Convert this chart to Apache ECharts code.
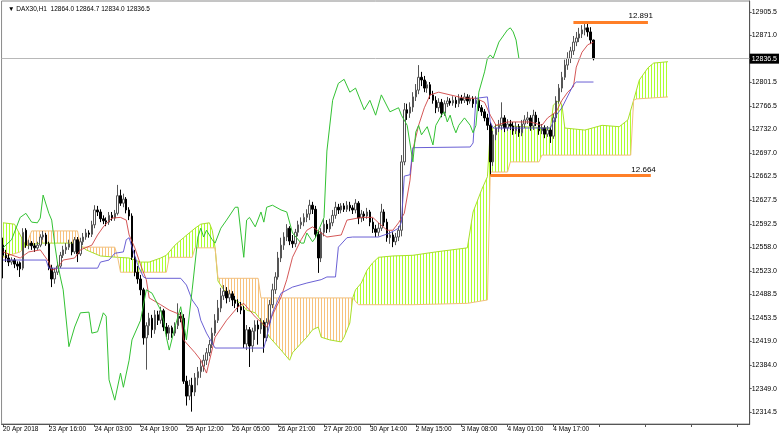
<!DOCTYPE html>
<html>
<head>
<meta charset="utf-8">
<script src="https://cdn.jsdelivr.net/npm/echarts@6/dist/echarts.min.js"></script>
<style>html,body{margin:0;padding:0;background:#fff}#chart{width:780px;height:435px}</style>
</head>
<body>
<div id="chart"></div>
<script>
// ---------- DATA ----------
const headerText = '▼ DAX30,H1  12864.0 12864.7 12834.0 12836.5';
const xTickLabels = ['20 Apr 2018','23 Apr 16:00','24 Apr 03:00','24 Apr 19:00','25 Apr 12:00','26 Apr 05:00','26 Apr 21:00','27 Apr 20:00','30 Apr 14:00','2 May 15:00','3 May 08:00','4 May 01:00','4 May 17:00'];
const yTickValues = [12314.5,12349.0,12384.0,12419.0,12453.5,12488.5,12523.0,12558.0,12592.5,12627.5,12662.5,12697.0,12732.0,12766.5,12801.5,12871.0,12905.5];
const bidPrice = 12836.5;

const opens = [12561,12546,12542,12536,12539,12533,12535,12527,12583,12561,
12564,12560,12557,12561,12573,12576,12563,12527,12511,12521,
12530,12546,12554,12558,12563,12551,12569,12548,12566,12573,
12579,12577,12591,12613,12610,12600,12597,12595,12605,12601,
12608,12634,12623,12629,12613,12604,12543,12521,12511,12495,
12424,12442,12453,12436,12458,12450,12464,12440,12431,12439,
12431,12442,12456,12453,12360,12338,12354,12344,12365,12374,
12382,12391,12402,12414,12431,12450,12468,12486,12493,12483,
12489,12480,12475,12470,12465,12415,12436,12412,12434,12443,
12437,12447,12424,12447,12473,12495,12514,12542,12561,12573,
12586,12567,12563,12580,12591,12595,12602,12607,12620,12614,
12577,12542,12580,12592,12585,12594,12605,12617,12613,12619,
12614,12620,12616,12613,12623,12601,12607,12604,12610,12595,
12585,12580,12586,12610,12595,12572,12576,12566,12573,12583,
12684,12761,12756,12765,12780,12790,12809,12805,12793,12798,
12783,12775,12764,12772,12756,12770,12774,12771,12775,12770,
12778,12775,12780,12774,12777,12770,12775,12764,12758,12749,
12738,12684,12724,12734,12738,12749,12734,12740,12737,12730,
12736,12727,12740,12746,12749,12737,12753,12743,12730,12734,
12725,12731,12722,12749,12774,12793,12809,12827,12837,12848,
12861,12867,12873,12879,12882,12876,12864];
const closes = [12546,12542,12536,12539,12533,12530,12526,12580,12561,12564,
12560,12557,12561,12573,12576,12563,12527,12511,12521,12530,
12546,12554,12558,12563,12551,12569,12548,12566,12573,12579,
12577,12591,12613,12610,12600,12597,12595,12605,12601,12608,
12634,12623,12629,12613,12604,12543,12521,12511,12495,12424,
12442,12453,12436,12458,12450,12464,12440,12431,12439,12431,
12442,12456,12453,12360,12338,12354,12344,12365,12374,12382,
12391,12402,12414,12431,12450,12468,12486,12493,12483,12489,
12480,12475,12470,12465,12415,12436,12412,12434,12443,12437,
12447,12424,12447,12473,12495,12514,12542,12561,12573,12586,
12567,12563,12580,12591,12595,12602,12607,12620,12614,12577,
12542,12580,12592,12585,12594,12605,12617,12613,12619,12614,
12620,12616,12613,12623,12601,12607,12604,12610,12595,12585,
12580,12586,12610,12595,12572,12576,12566,12573,12583,12684,
12761,12756,12765,12780,12790,12809,12805,12793,12798,12783,
12775,12764,12772,12756,12770,12774,12771,12775,12770,12778,
12775,12780,12774,12777,12770,12775,12764,12758,12749,12738,
12684,12724,12734,12738,12749,12734,12740,12737,12730,12736,
12727,12740,12746,12749,12737,12753,12743,12730,12734,12725,
12731,12722,12749,12774,12793,12809,12827,12837,12848,12861,
12867,12873,12879,12882,12876,12864,12836.5];
const highs = [12572,12554,12548,12543,12542,12537,12537,12586,12586,12569,
12567,12564,12566,12577,12582,12579,12566,12532,12527,12536,
12551,12560,12564,12569,12566,12573,12573,12572,12579,12585,
12583,12597,12620,12619,12614,12605,12602,12610,12610,12613,
12650,12643,12637,12632,12617,12608,12554,12530,12517,12498,
12447,12461,12458,12465,12464,12470,12467,12446,12443,12442,
12447,12475,12462,12459,12368,12362,12365,12372,12381,12391,
12399,12409,12421,12439,12459,12480,12498,12502,12499,12495,
12493,12486,12481,12477,12471,12443,12440,12439,12450,12450,
12453,12450,12453,12480,12504,12521,12551,12572,12580,12592,
12589,12576,12585,12597,12602,12608,12614,12628,12625,12619,
12583,12586,12600,12598,12600,12613,12625,12622,12623,12623,
12626,12625,12620,12629,12626,12613,12611,12616,12613,12601,
12591,12594,12622,12614,12600,12582,12580,12579,12589,12694,
12771,12770,12772,12787,12799,12827,12817,12811,12803,12802,
12789,12781,12778,12777,12775,12780,12778,12781,12780,12784,
12783,12786,12784,12783,12781,12781,12778,12768,12762,12755,
12743,12730,12740,12746,12772,12753,12747,12746,12743,12743,
12740,12746,12753,12758,12753,12761,12758,12749,12740,12738,
12737,12736,12755,12781,12799,12817,12835,12846,12854,12870,
12876,12882,12886,12891,12888,12883,12864.7];
const lows = [12512,12536,12530,12532,12527,12524,12514,12524,12557,12555,
12554,12551,12554,12558,12569,12560,12524,12499,12504,12517,
12527,12542,12548,12554,12546,12548,12536,12545,12561,12569,
12572,12573,12586,12604,12595,12592,12589,12591,12597,12597,
12605,12619,12617,12608,12598,12539,12515,12504,12487,12414,
12377,12428,12424,12430,12443,12445,12434,12425,12421,12424,
12427,12437,12447,12356,12324,12332,12315,12338,12354,12365,
12374,12384,12397,12409,12427,12446,12462,12480,12475,12477,
12471,12468,12462,12459,12409,12406,12381,12403,12421,12414,
12430,12402,12419,12442,12468,12489,12510,12536,12554,12567,
12561,12557,12558,12574,12585,12589,12595,12598,12607,12572,
12520,12536,12574,12579,12580,12589,12600,12607,12608,12610,
12610,12611,12607,12608,12592,12595,12597,12600,12589,12579,
12573,12574,12582,12589,12566,12563,12558,12561,12567,12574,
12679,12746,12749,12758,12774,12784,12796,12787,12786,12777,
12770,12756,12758,12750,12752,12765,12767,12767,12764,12765,
12770,12771,12768,12770,12764,12765,12759,12752,12744,12731,
12664,12678,12716,12728,12731,12728,12730,12731,12724,12725,
12721,12722,12734,12740,12730,12731,12737,12724,12725,12719,
12721,12712,12718,12743,12770,12787,12805,12820,12830,12842,
12855,12861,12867,12871,12869,12858,12834];

// Ichimoku lines: [bar index, price]
const tenkan = [[0,12551],[6,12542],[9,12551],[13,12554],[16,12536],[17,12524],[19,12527],[21,12539],[25,12542],[27,12554],[31,12561],[33,12576],[35,12588],[38,12601],[41,12602],[43,12598],[44,12576],[46,12557],[48,12532],[50,12510],[51,12483],[55,12473],[58,12465],[62,12458],[63,12421],[67,12402],[69,12391],[71,12372],[74,12425],[78,12450],[82,12470],[84,12475],[88,12455],[92,12440],[97,12484],[99,12510],[101,12543],[104,12569],[106,12583],[108,12588],[111,12579],[113,12573],[118,12576],[120,12598],[125,12602],[129,12602],[131,12594],[134,12583],[136,12583],[138,12594],[140,12608],[142,12657],[143,12702],[145,12738],[147,12764],[149,12783],[152,12787],[156,12783],[161,12778],[165,12778],[168,12772],[170,12753],[172,12738],[176,12743],[179,12743],[184,12743],[188,12738],[190,12749],[193,12758],[195,12775],[197,12787],[199,12795],[200,12824],[202,12846],[204,12857],[206,12861]];
const kijun = [[0,12539],[15,12539],[16,12527],[33,12527],[34,12536],[37,12539],[39,12549],[42,12551],[43,12569],[44,12572],[45,12558],[47,12532],[49,12514],[50,12512],[62,12512],[64,12502],[66,12480],[68,12468],[69,12450],[71,12431],[74,12409],[91,12409],[92,12425],[94,12461],[97,12490],[101,12499],[106,12505],[111,12510],[113,12514],[116,12514],[117,12558],[120,12572],[122,12573],[131,12573],[135,12579],[138,12586],[139,12595],[140,12663],[142,12665],[143,12705],[163,12706],[164,12712],[165,12778],[169,12780],[170,12743],[171,12734],[191,12734],[193,12753],[195,12764],[199,12798],[200,12802],[206,12802]];
const chikou = [[0,12557],[3,12569],[6,12602],[8,12608],[10,12595],[12,12594],[13,12601],[14,12635],[16,12608],[17,12598],[18,12564],[19,12535],[20,12514],[21,12495],[23,12411],[25,12440],[27,12461],[30,12462],[31,12431],[33,12433],[35,12461],[36,12456],[37,12362],[39,12332],[41,12372],[42,12351],[44,12391],[45,12421],[48,12450],[50,12495],[52,12490],[55,12465],[56,12450],[57,12425],[58,12406],[60,12440],[62,12470],[63,12446],[64,12421],[66,12495],[68,12573],[69,12586],[70,12573],[71,12583],[73,12569],[74,12564],[76,12586],[78,12598],[81,12617],[82,12617],[83,12579],[84,12543],[85,12598],[86,12602],[88,12588],[90,12610],[91,12595],[92,12617],[94,12620],[97,12613],[99,12610],[101,12579],[104,12564],[105,12564],[106,12579],[108,12566],[109,12572],[112,12602],[113,12700],[115,12775],[117,12800],[119,12806],[121,12787],[123,12793],[126,12761],[128,12775],[130,12753],[132,12783],[135,12758],[138,12764],[139,12753],[141,12738],[143,12684],[144,12728],[145,12738],[146,12724],[148,12736],[150,12709],[151,12738],[153,12753],[154,12758],[155,12743],[156,12753],[157,12738],[158,12727],[159,12738],[161,12749],[163,12738],[164,12727],[165,12738],[166,12787],[168,12817],[169,12837],[170,12842],[171,12837],[173,12861],[174,12867],[175,12873],[176,12879],[177,12882],[178,12876],[179,12864],[180,12836.5]];
const senkouA = [[0,12594],[4,12592],[6,12576],[8,12560],[13,12564],[26,12564],[29,12554],[34,12545],[40,12543],[44,12542],[48,12536],[51,12536],[55,12542],[57,12546],[60,12561],[63,12572],[67,12586],[69,12592],[72,12594],[73,12583],[74,12557],[75,12508],[77,12495],[81,12480],[83,12475],[85,12465],[88,12461],[90,12450],[91,12440],[93,12425],[97,12406],[100,12391],[101,12402],[104,12416],[106,12425],[108,12436],[110,12440],[111,12425],[114,12421],[118,12418],[119,12425],[121,12446],[122,12483],[123,12495],[125,12505],[127,12524],[129,12535],[131,12543],[136,12545],[143,12546],[151,12551],[162,12557],[164,12610],[167,12643],[169,12662],[170,12731],[172,12738],[191,12734],[192,12768],[194,12775],[195,12768],[196,12734],[203,12731],[209,12738],[215,12736],[218,12746],[220,12775],[222,12805],[225,12823],[227,12830],[232,12832]];
const senkouB = [[0,12543],[6,12551],[8,12560],[10,12582],[26,12582],[27,12558],[39,12558],[40,12543],[41,12521],[57,12521],[58,12543],[66,12543],[67,12557],[74,12557],[75,12512],[89,12512],[90,12483],[122,12483],[124,12473],[143,12473],[162,12475],[169,12480],[170,12669],[176,12669],[177,12684],[187,12684],[188,12694],[219,12694],[220,12775],[221,12777],[232,12780]];
// cloud pieces: which span is on top between two crossing bars
const cloudFrom = [0, 8, 40, 74, 122];
const cloudTo   = [8, 40, 74, 122, 232];
const cloudBull = [true, false, true, false, true];

// drawn horizontal levels
const levelPrices = [12891, 12664];
const levelFrom = [199, 170];
const levelTo = [225, 226];
const levelTexts = ['12.891', '12.664'];

// ---------- CHART ----------
const SLOTS = 261;
const slots = Array.from({length: SLOTS}, (_, i) => String(i));
const Y_MIN = 12296.75, Y_MAX = 12921.7;
const FONT = "'Liberation Sans Narrow','Liberation Sans',Arial,sans-serif";

const candles = opens.map((o, i) => [o, closes[i], lows[i], highs[i]]);

function hatch(color) {
  const c = document.createElement('canvas');
  c.width = 3; c.height = 4;
  const g = c.getContext('2d');
  g.fillStyle = color;
  g.fillRect(0, 0, 1, 4);
  return {image: c, repeat: 'repeat'};
}
const bullFill = hatch('#adff2f');
const bearFill = hatch('#f7c27c');

const chart = echarts.init(document.getElementById('chart'), null, {renderer: 'canvas'});

const levelLines = levelPrices.map((p, k) => [
  {coord: [levelFrom[k], p],
   lineStyle: {color: '#ff7f27', width: 3, type: 'solid'},
   label: {show: true, position: 'insideEndTop', formatter: levelTexts[k], color: '#000', fontSize: 8, fontFamily: FONT, distance: [-5, 2]}},
  {coord: [levelTo[k], p]}
]);

chart.setOption({
  animation: false,
  backgroundColor: '#ffffff',
  title: {text: headerText, left: 3, top: 1, textStyle: {fontSize: 6.5, fontWeight: 'normal', color: '#000', fontFamily: FONT}},
  grid: {left: 0, right: 25, top: 1, bottom: 11, show: true, borderColor: '#8a8a8a', borderWidth: 1},
  xAxis: {
    type: 'category', data: slots, boundaryGap: true,
    axisLine: {lineStyle: {color: '#555', width: 1}},
    axisTick: {show: true, alignWithLabel: true, interval: (i) => i % 16 === 0, length: 3, lineStyle: {color: '#555'}},
    axisLabel: {interval: (i) => i % 16 === 0, formatter: (v, i) => xTickLabels[i / 16] || '', align: 'left', margin: 2, fontSize: 6.5, color: '#000', fontFamily: FONT},
    splitLine: {show: false}
  },
  yAxis: {
    type: 'value', position: 'right', min: Y_MIN, max: Y_MAX,
    axisLine: {show: true, lineStyle: {color: '#555', width: 1}},
    axisTick: {show: true, customValues: yTickValues, length: 2, lineStyle: {color: '#555'}},
    axisLabel: {customValues: yTickValues, formatter: (v) => v.toFixed(1), margin: 2, fontSize: 7, color: '#000', fontFamily: FONT},
    splitLine: {show: false}
  },
  series: [
    {
      type: 'custom', name: 'kumo', z: 1, silent: true, clip: true,
      data: cloudFrom.map((f, k) => [f, cloudTo[k], senkouA[0][1]]),
      encode: {x: 0, y: 2},
      renderItem: (params, api) => {
        const k = params.dataIndex;
        const f = cloudFrom[k], t = cloudTo[k];
        const top = senkouA.filter(p => p[0] >= f && p[0] <= t).map(p => api.coord(p));
        const bot = senkouB.filter(p => p[0] >= f && p[0] <= t).map(p => api.coord(p)).reverse();
        return {type: 'polygon', shape: {points: top.concat(bot)}, style: {fill: cloudBull[k] ? bullFill : bearFill, stroke: null}};
      }
    },
    {type: 'line', name: 'Senkou A', data: senkouA, showSymbol: false, z: 2, silent: true, lineStyle: {color: '#a8e02a', width: 1}},
    {type: 'line', name: 'Senkou B', data: senkouB, showSymbol: false, z: 2, silent: true, lineStyle: {color: '#f2bf7c', width: 1}},
    {
      type: 'candlestick', name: 'DAX30', data: candles, z: 3, barWidth: 2,
      itemStyle: {color: '#ffffff', color0: '#000000', borderColor: '#555555', borderColor0: '#000000', borderWidth: 1},
      markLine: {
        silent: true, symbol: ['none', 'none'], animation: false,
        data: [
          {yAxis: bidPrice, lineStyle: {color: '#b8b8b8', width: 1, type: 'solid'},
           label: {show: true, position: 'end', formatter: bidPrice.toFixed(1), backgroundColor: '#000', color: '#fff', fontSize: 7, fontFamily: FONT, padding: [2, 2, 1, 2], distance: 0}}
        ].concat(levelLines)
      }
    },
    {type: 'line', name: 'Tenkan', data: tenkan, showSymbol: false, z: 4, silent: true, lineStyle: {color: '#cc3a3a', width: 1, opacity: 0.85}},
    {type: 'line', name: 'Kijun', data: kijun, showSymbol: false, z: 4, silent: true, lineStyle: {color: '#5a4fcf', width: 1, opacity: 0.9}},
    {type: 'line', name: 'Chikou', data: chikou, showSymbol: false, z: 4, silent: true, lineStyle: {color: '#33c233', width: 1}}
  ]
});
</script>
</body>
</html>
